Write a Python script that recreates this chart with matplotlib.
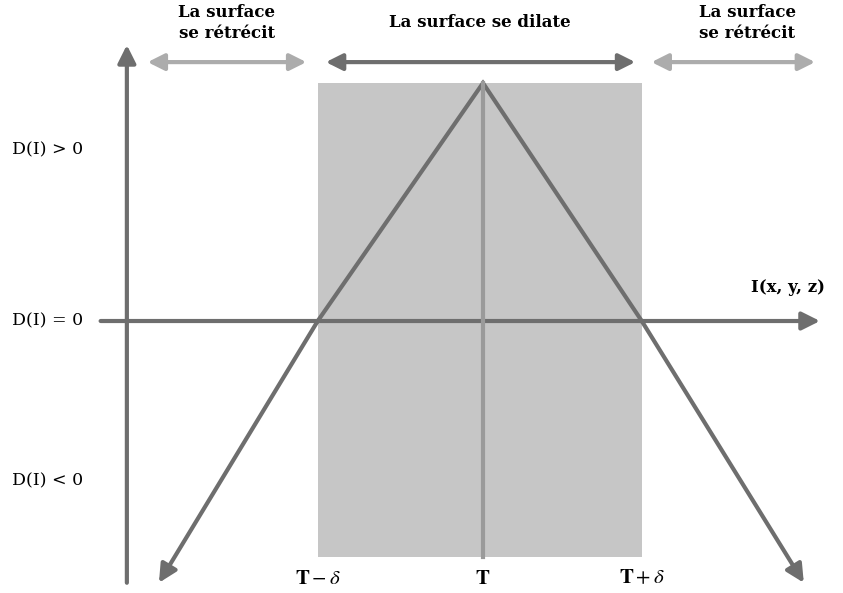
import matplotlib
matplotlib.use('Agg')
import matplotlib.pyplot as plt
from matplotlib.patches import Rectangle

plt.rcParams['font.family'] = ['DejaVu Serif']
plt.rcParams['mathtext.fontset'] = 'stix'

# D(I) curve (T at 0, delta ~ 1)
I_pts = [-2.0, -1.02, 0.0, 0.98, 1.98]
D_pts = [-1.10, 0.0, 1.0, 0.0, -1.10]

band = (-1.02, 0.98)          # T - delta .. T + delta
band_D = (-0.99, 1.0)
T_pos = 0.0

tick_pos = [-1.02, 0.0, 0.98]
tick_lbl = [r'$\mathbf{T} - \delta$', r'$\mathbf{T}$', r'$\mathbf{T} + \delta$']

ylab_pos = [0.72, 0.0, -0.67]
ylab_txt = ['D(I) > 0', 'D(I) = 0', 'D(I) < 0']

# top region arrows: (start, end, colour, label, label x)
regions = [(-2.07, -1.09, '#acacac', 'La surface\nse rétrécit', -1.58),
           (-0.97, 0.94, '#6e6e6e', 'La surface se dilate', -0.02),
           (1.04, 2.05, '#acacac', 'La surface\nse rétrécit', 1.63)]

dark = '#6e6e6e'

fig = plt.figure(figsize=(8.43, 5.93), dpi=100)
ax = fig.add_axes([0, 0, 1, 1])
ax.set_xlim(-2.981, 2.222)
ax.set_ylim(-1.143, 1.349)
ax.axis('off')

ax.add_patch(Rectangle((band[0], band_D[0]), band[1] - band[0], band_D[1] - band_D[0],
                       facecolor='#c6c6c6', edgecolor='none', zorder=1))

head = '-|>,head_length=0.9,head_width=0.45'

# axes
ax.annotate('', xy=(-2.198, 1.16), xytext=(-2.198, -1.10),
            arrowprops=dict(arrowstyle=head, color=dark, lw=3, mutation_scale=12,
                            shrinkA=0, shrinkB=0), zorder=3)
ax.annotate('', xy=(2.08, 0.0), xytext=(-2.36, 0.0),
            arrowprops=dict(arrowstyle=head, color=dark, lw=3, mutation_scale=12,
                            shrinkA=0, shrinkB=0), zorder=3)

# D(I) curve
ax.plot(I_pts[1:4], D_pts[1:4], color=dark, lw=3, solid_joinstyle='miter', zorder=4)
for a, b in [(1, 0), (3, 4)]:
    ax.annotate('', xy=(I_pts[b], D_pts[b]), xytext=(I_pts[a], D_pts[a]),
                arrowprops=dict(arrowstyle=head, color=dark, lw=3, mutation_scale=12,
                                shrinkA=0, shrinkB=0), zorder=4)

ax.plot([T_pos, T_pos], [band_D[0], band_D[1]], color='#9a9a9a', lw=3, zorder=5)

# region arrows + labels
for x0, x1, c, lbl, lx in regions:
    ax.annotate('', xy=(x1, 1.088), xytext=(x0, 1.088),
                arrowprops=dict(arrowstyle='<|-|>,head_length=0.9,head_width=0.45', color=c,
                                lw=3, mutation_scale=11, shrinkA=0, shrinkB=0))
    ax.text(lx, 1.254, lbl, ha='center', va='center', fontsize=12,
            fontweight='bold', linespacing=1.3)

for y, t in zip(ylab_pos, ylab_txt):
    ax.text(-2.905, y, t, ha='left', va='center', fontsize=12.5)

for x, t in zip(tick_pos, tick_lbl):
    ax.text(x, -1.08, t, ha='center', va='center', fontsize=15)

ax.text(1.88, 0.14, 'I(x, y, z)', ha='center', va='center', fontsize=12, fontweight='bold')

fig.savefig('out.png', dpi=100)
